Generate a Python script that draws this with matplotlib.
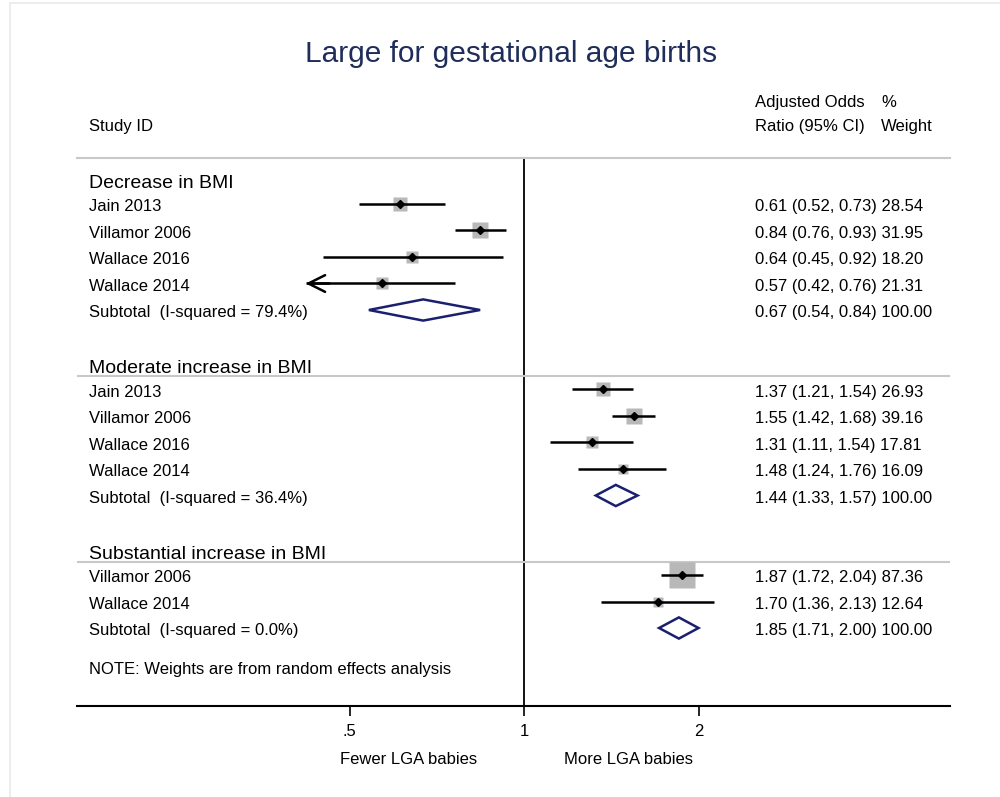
import matplotlib
matplotlib.use("Agg")
import matplotlib.pyplot as plt
import numpy as np
from matplotlib.transforms import blended_transform_factory
from matplotlib.patches import Polygon

plt.rcParams['font.family'] = ['Liberation Sans', 'DejaVu Sans']

# ---------------- data ----------------
title = "Large for gestational age births"
group_names = ["Decrease in BMI", "Moderate increase in BMI", "Substantial increase in BMI"]

study_group = [0, 0, 0, 0, 1, 1, 1, 1, 2, 2]
study_names = ["Jain 2013", "Villamor 2006", "Wallace 2016", "Wallace 2014",
               "Jain 2013", "Villamor 2006", "Wallace 2016", "Wallace 2014",
               "Villamor 2006", "Wallace 2014"]
study_or = [0.61, 0.84, 0.64, 0.57, 1.37, 1.55, 1.31, 1.48, 1.87, 1.70]
study_lo = [0.52, 0.76, 0.45, 0.42, 1.21, 1.42, 1.11, 1.24, 1.72, 1.36]
study_hi = [0.73, 0.93, 0.92, 0.76, 1.54, 1.68, 1.54, 1.76, 2.04, 2.13]
study_wt = [28.54, 31.95, 18.20, 21.31, 26.93, 39.16, 17.81, 16.09, 87.36, 12.64]

sub_or = [0.67, 1.44, 1.85]
sub_lo = [0.54, 1.33, 1.71]
sub_hi = [0.84, 1.57, 2.00]
sub_isq = [79.4, 36.4, 0.0]

x_ticks = [0.5, 1, 2]
x_ticklabels = [".5", "1", "2"]
left_label = "Fewer LGA babies"
right_label = "More LGA babies"
note = "NOTE: Weights are from random effects analysis"
clip_lo = 0.44   # CIs beyond this are drawn as arrows

# ---------------- figure ----------------
W, H = 1000, 797
fig = plt.figure(figsize=(W / 100, H / 100), dpi=100)
fig.patch.set_facecolor('white')

# faint outer frame
fig.add_artist(plt.Line2D([10 / W, 10 / W], [0, 1 - 3 / H], transform=fig.transFigure,
                          color='#e6ecea', lw=1.2))
fig.add_artist(plt.Line2D([10 / W, 1], [1 - 3 / H, 1 - 3 / H], transform=fig.transFigure,
                          color='#e6ecea', lw=1.2))

row0_px = 177.5
row_h = 26.5
top_px, bot_px = 158, 705.5
left_px, right_px = 77, 950
ax = fig.add_axes([left_px / W, 1 - bot_px / H, (right_px - left_px) / W, (bot_px - top_px) / H])
ax.set_xscale('log')
px_per_oct = 174.5
x1_px = 524
xmin = 2 ** ((left_px - x1_px) / px_per_oct)
xmax = 2 ** ((right_px - x1_px) / px_per_oct)
ax.set_xlim(xmin, xmax)
ytop = (top_px - row0_px) / row_h
ybot = (bot_px - row0_px) / row_h
ax.set_ylim(ybot, ytop)
ax.patch.set_alpha(0)

for s in ['left', 'right']:
    ax.spines[s].set_visible(False)
ax.spines['top'].set_color('#c8c8c8')
ax.spines['top'].set_linewidth(1.5)
ax.spines['bottom'].set_color('black')
ax.spines['bottom'].set_linewidth(1.5)
ax.set_yticks([])
ax.set_xticks(x_ticks)
ax.set_xticklabels(x_ticklabels)
ax.xaxis.set_minor_locator(matplotlib.ticker.NullLocator())
ax.tick_params(axis='x', direction='out', length=7.5, width=1.2, labelsize=12, pad=6, colors='black')

ax.axvline(1, color='black', lw=1.3, zorder=1)

tl = blended_transform_factory(fig.transFigure, ax.transData)
x_text = 89 / W
x_est = 755 / W
x_wt = 881 / W
txt_off = 0.265
hdr_off = 0.39
fs = 12
navy = '#1a1f6e'
ci_lw = 1.8

# header
ax.text(x_est, (107 - row0_px) / row_h, "Adjusted Odds", transform=tl, fontsize=fs, va='baseline')
ax.text(x_wt, (107 - row0_px) / row_h, "%", transform=tl, fontsize=fs, va='baseline')
ax.text(x_est, (131.5 - row0_px) / row_h, "Ratio (95% CI)", transform=tl, fontsize=fs, va='baseline')
ax.text(x_wt, (131.5 - row0_px) / row_h, "Weight", transform=tl, fontsize=fs, va='baseline')
ax.text(x_text, (131.5 - row0_px) / row_h, "Study ID", transform=tl, fontsize=fs, va='baseline')

fig.text(511 / W, 1 - 62 / H, title, ha='center', va='baseline', fontsize=21.5, color='#1f2d5a')

row = 0
for g, gname in enumerate(group_names):
    if g > 0:
        ax.axhline(row + 0.5, color='#c8c8c8', lw=1.5, zorder=1)
    ax.text(x_text, row + hdr_off, gname, transform=tl, fontsize=14, va='baseline')
    row += 1
    for i in range(len(study_names)):
        if study_group[i] != g:
            continue
        e, l, h, w = study_or[i], study_lo[i], study_hi[i], study_wt[i]
        side_pt = 1.95 * np.sqrt(w)
        ax.plot([e], [row], marker='s', ms=side_pt, color='#b8b8b8', mec='none', zorder=2)
        ax.plot([l, h], [row, row], color='black', lw=ci_lw, zorder=3, solid_capstyle='butt')
        if l < clip_lo:
            ax.annotate('', xy=(l, row), xytext=(l * 1.1, row),
                        arrowprops=dict(arrowstyle='->', lw=ci_lw, color='black',
                                        mutation_scale=30, shrinkA=0, shrinkB=0), zorder=3)
        ax.plot([e], [row], marker='D', ms=4.2, color='black', zorder=4)
        ax.text(x_text, row + txt_off, study_names[i], transform=tl, fontsize=fs, va='baseline')
        ax.text(x_est, row + txt_off, f"{e:.2f} ({l:.2f}, {h:.2f}) {w:.2f}", transform=tl,
                fontsize=fs, va='baseline')
        row += 1
    # subtotal
    e, l, h = sub_or[g], sub_lo[g], sub_hi[g]
    dh = 0.4
    ax.add_patch(Polygon([(l, row), (e, row - dh), (h, row), (e, row + dh)], closed=True,
                         fill=False, edgecolor=navy, lw=1.8, zorder=3))
    ax.text(x_text, row + txt_off, f"Subtotal  (I-squared = {sub_isq[g]:.1f}%)", transform=tl,
            fontsize=fs, va='baseline')
    ax.text(x_est, row + txt_off, f"{e:.2f} ({l:.2f}, {h:.2f}) 100.00", transform=tl,
            fontsize=fs, va='baseline')
    row += 2

ax.text(x_text, (674 - row0_px) / row_h, note, transform=tl, fontsize=fs, va='baseline')

fig.text(408.7 / W, 1 - 764 / H, left_label, ha='center', va='baseline', fontsize=fs)
fig.text(629 / W, 1 - 764 / H, right_label, ha='center', va='baseline', fontsize=fs)

fig.savefig("out.png", dpi=100, facecolor='white')
